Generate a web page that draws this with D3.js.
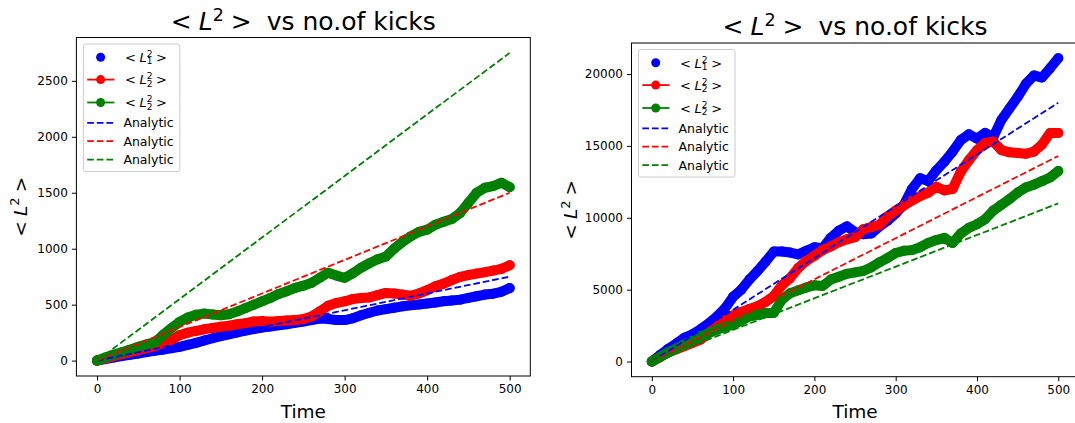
<!DOCTYPE html>
<html>
<head>
<meta charset="utf-8">
<script src="https://cdn.jsdelivr.net/npm/d3@7"></script>
<style>
  body { margin: 0; background: #fff; }
  svg { display: block; }
  text { font-family: "DejaVu Sans", sans-serif; fill: #000; }
</style>
</head>
<body>
<svg id="chart" width="1075" height="423"></svg>
<script>
// Number of kicks (time steps) at which <L^2> was sampled
const timeSteps = [0,10,20,30,40,50,60,70,80,90,100,110,120,130,140,150,160,170,180,190,200,
  210,220,230,240,250,260,270,280,290,300,310,320,330,340,350,360,370,380,390,400,
  410,420,430,440,450,460,470,480,490,500];

// Left panel: simulated <L^2> for the three rotors
const leftL1 = [0,14,28,40,52,64,76,88,98,110,123,141,159,180,200,219,235,252,268,282,296,
  305,315,325,338,350,362,376,372,362,362,378,405,428,448,460,472,485,495,502,510,
  520,530,538,545,560,575,590,598,615,648];
const leftL2 = [0,20,40,58,76,94,112,130,155,185,227,250,265,280,292,302,312,325,335,350,355,
  348,355,358,362,372,395,440,490,515,530,550,560,565,585,605,600,590,580,600,629,
  665,688,720,748,765,778,790,805,820,852];
const leftL3 = [0,28,52,75,98,123,145,165,230,290,346,385,410,420,412,405,415,440,470,500,530,
  560,595,620,650,670,695,740,785,760,740,780,830,870,905,930,1000,1060,1110,1150,1170,
  1215,1240,1265,1320,1410,1500,1545,1560,1590,1550];

// Right panel: simulated <L^2> for the three rotors
const rightL1 = [0,450,880,1250,1650,1900,2250,2650,3130,3700,4500,5000,5700,6300,6950,7650,7650,7580,7450,7700,7950,
  7880,8600,9100,9400,9000,8850,8900,9400,9800,10300,10900,12000,12750,12550,13300,13900,14600,15400,15800,15500,
  15900,15600,16800,17600,18400,19300,19900,19750,20400,21100];
const rightL2 = [0,300,620,850,1070,1300,1530,2000,2440,2850,3200,3450,3650,3850,4150,4550,5300,5800,6500,7000,7350,
  7750,8000,8300,8500,8650,9200,9350,9500,10100,10500,10850,11200,11500,11750,12150,11900,12000,13200,14000,14700,
  15200,15300,14700,14550,14500,14450,14600,15100,15900,15900];
const rightL3 = [0,320,640,900,1180,1450,1750,1980,2210,2400,2560,2850,3130,3250,3370,3380,4300,4750,4950,5150,5300,
  5250,5700,5900,6100,6200,6300,6550,6900,7200,7550,7700,7750,7950,8250,8450,8600,8250,8900,9300,9550,
  9900,10500,10900,11300,11750,12100,12300,12550,12800,13250];

// Analytic predictions (straight lines from the origin)
const analyticTime = [0, 500];
const leftAnalytic1 = [0, 750];
const leftAnalytic2 = [0, 1500];
const leftAnalytic3 = [0, 2750];
const rightAnalytic1 = [0, 18000];
const rightAnalytic2 = [0, 14300];
const rightAnalytic3 = [0, 11000];

// Tick labels
const xTicks = [0, 100, 200, 300, 400, 500];
const leftYTicks = [0, 500, 1000, 1500, 2000, 2500];
const rightYTicks = [0, 5000, 10000, 15000, 20000];

// Legend text
const legendSubscripts = ["1", "2", "2"];
const analyticLabel = "Analytic";
const titleRest = "vs no.of kicks";
const xLabel = "Time";

const colors = ["#0000ff", "#ff0000", "#008000"];
const markerR = 5;

const svg = d3.select("#chart");

// Draws "< L_sub^sup >" as math-style text; returns the <text> selection.
function mathL(g, x, y, fs, sub, sup) {
  const t = g.append("text").attr("x", x).attr("y", y).style("font-size", fs + "px");
  const sfs = fs * 0.7;
  const gap = fs * 0.278;
  const supRise = fs * 0.38;
  const subDrop = fs * 0.18;
  t.append("tspan").text("<");
  t.append("tspan").attr("dx", gap).style("font-style", "italic").text("L");
  t.append("tspan").attr("dy", -supRise).style("font-size", sfs + "px").text(sup);
  let tail = -supRise;
  if (sub) {
    t.append("tspan").attr("dx", -sfs * 0.636).attr("dy", supRise + subDrop)
      .style("font-size", sfs + "px").text(sub);
    tail = subDrop;
  }
  t.append("tspan").attr("dx", gap).attr("dy", -tail).text(">");
  return t;
}

function drawPanel(cfg) {
  const { box, series, analytic, yTicks, titleBaseline, yLabelX, id } = cfg;
  const allY = series.flat().concat(analytic.flat());
  const [ymin, ymax] = d3.extent(allY);
  const ypad = (ymax - ymin) * 0.05;
  const [tmin, tmax] = d3.extent(timeSteps);
  const xpad = (tmax - tmin) * 0.05;

  const x = d3.scaleLinear().domain([tmin - xpad, tmax + xpad]).range([box.left, box.right]);
  const y = d3.scaleLinear().domain([ymin - ypad, ymax + ypad]).range([box.bottom, box.top]);

  const g = svg.append("g");

  g.append("clipPath").attr("id", id)
    .append("rect")
    .attr("x", box.left).attr("y", box.top)
    .attr("width", box.right - box.left).attr("height", box.bottom - box.top);

  const plot = g.append("g").attr("clip-path", `url(#${id})`);

  // Simulated series: dense markers forming a band
  const band = d3.line().x((d, i) => x(timeSteps[i])).y(d => y(d));
  series.forEach((vals, k) => {
    const s = plot.append("g");
    s.append("path").datum(vals)
      .attr("d", band)
      .attr("fill", "none")
      .attr("stroke", colors[k])
      .attr("stroke-width", markerR * 2)
      .attr("stroke-linejoin", "round")
      .attr("stroke-linecap", "round");
    s.selectAll("circle").data(vals).join("circle")
      .attr("cx", (d, i) => x(timeSteps[i]))
      .attr("cy", d => y(d))
      .attr("r", markerR)
      .attr("fill", colors[k]);
  });

  // Analytic dashed lines
  const aLine = d3.line().x((d, i) => x(analyticTime[i])).y(d => y(d));
  analytic.forEach((vals, k) => {
    plot.append("path").datum(vals)
      .attr("d", aLine)
      .attr("fill", "none")
      .attr("stroke", colors[k])
      .attr("stroke-width", 1.8)
      .attr("stroke-dasharray", "6.7,2.9");
  });

  // Axes
  const xAxis = g.append("g").attr("transform", `translate(0,${box.bottom})`)
    .call(d3.axisBottom(x).tickValues(xTicks).tickSize(4.5).tickPadding(4).tickFormat(d3.format("d")));
  const yAxis = g.append("g").attr("transform", `translate(${box.left},0)`)
    .call(d3.axisLeft(y).tickValues(yTicks).tickSize(4.5).tickPadding(4).tickFormat(d3.format("d")));
  [xAxis, yAxis].forEach(a => {
    a.select(".domain").remove();
    a.selectAll("line").attr("stroke", "#000").attr("stroke-width", 1);
    a.selectAll("text").style("font-size", "12px").style("font-family", "DejaVu Sans").attr("fill", "#000");
  });

  // Frame
  g.append("rect")
    .attr("x", box.left).attr("y", box.top)
    .attr("width", box.right - box.left).attr("height", box.bottom - box.top)
    .attr("fill", "none").attr("stroke", "#000").attr("stroke-width", 1);

  // Title, centred over the axes
  const cx = (box.left + box.right) / 2;
  const tt = mathL(g, 0, titleBaseline, 25, null, "2");
  tt.append("tspan").attr("dx", 25 * 0.6).text(titleRest);
  const tb = tt.node().getBBox();
  tt.attr("x", cx - (tb.x + tb.width / 2));

  // Axis labels
  g.append("text")
    .attr("x", cx).attr("y", 418)
    .attr("text-anchor", "middle")
    .style("font-size", "18.5px")
    .text(xLabel);
  const cy = (box.top + box.bottom) / 2;
  const yl = g.append("g").attr("transform", `translate(${yLabelX},${cy}) rotate(-90)`);
  const ylt = mathL(yl, 0, 0, 18.5, null, "2");
  const yb = ylt.node().getBBox();
  ylt.attr("x", -(yb.x + yb.width / 2));

  // Legend
  const bx = box.left + 7, by = box.top + 6.5;
  const lg = g.append("g");
  lg.append("rect")
    .attr("x", bx).attr("y", by).attr("width", 96.5).attr("height", 127.5)
    .attr("rx", 2.5).attr("ry", 2.5)
    .attr("fill", "#fff").attr("fill-opacity", 0.8)
    .attr("stroke", "#cccccc").attr("stroke-width", 1);
  const rowY = [13.2, 35.6, 58.5, 78.8, 97.2, 115.7];
  const hx0 = bx + 3.8, hx1 = bx + 31, hxm = bx + 17.2, tx = bx + 40;
  for (let k = 0; k < 3; k++) {
    const ry = by + rowY[k];
    if (k > 0) {
      lg.append("line").attr("x1", hx0).attr("x2", hx1).attr("y1", ry).attr("y2", ry)
        .attr("stroke", colors[k]).attr("stroke-width", 1.8);
    }
    lg.append("circle").attr("cx", hxm).attr("cy", ry).attr("r", 4.5).attr("fill", colors[k]);
    mathL(lg, tx + 1.5, ry + 4.8, 13, legendSubscripts[k], "2");
  }
  for (let k = 0; k < 3; k++) {
    const ry = by + rowY[k + 3];
    lg.append("line").attr("x1", hx0).attr("x2", hx1).attr("y1", ry).attr("y2", ry)
      .attr("stroke", colors[k]).attr("stroke-width", 1.8).attr("stroke-dasharray", "6.7,2.9");
    lg.append("text").attr("x", tx).attr("y", ry + 4.4)
      .style("font-size", "12.5px").text(analyticLabel);
  }
}

drawPanel({
  id: "clipLeft",
  box: { left: 76.4, right: 530.3, top: 37.5, bottom: 376 },
  series: [leftL1, leftL2, leftL3],
  analytic: [leftAnalytic1, leftAnalytic2, leftAnalytic3],
  yTicks: leftYTicks,
  titleBaseline: 30,
  yLabelX: 26.5
});

drawPanel({
  id: "clipRight",
  box: { left: 631.5, right: 1078.6, top: 43, bottom: 376.7 },
  series: [rightL1, rightL2, rightL3],
  analytic: [rightAnalytic1, rightAnalytic2, rightAnalytic3],
  yTicks: rightYTicks,
  titleBaseline: 35,
  yLabelX: 577
});
</script>
</body>
</html>
